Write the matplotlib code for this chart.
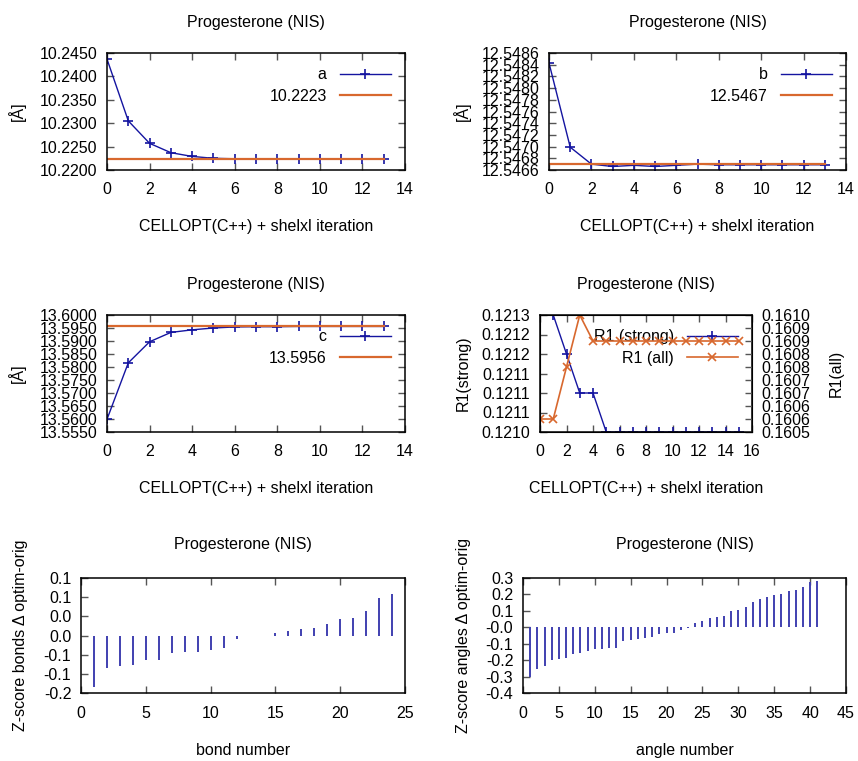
import numpy as np
import matplotlib
matplotlib.use("Agg")
import matplotlib.pyplot as plt
from matplotlib.ticker import FormatStrFormatter, MultipleLocator

plt.rcParams['font.family'] = ['Liberation Sans', 'DejaVu Sans']
plt.rcParams['font.size'] = 11.5
plt.rcParams['axes.titlesize'] = 11.5

# ---- data ----
iters = list(range(14))
a_vals = [10.2437, 10.2305, 10.2257, 10.2237, 10.2229, 10.2225, 10.2224,
          10.2224, 10.2223, 10.2223, 10.2223, 10.2223, 10.2223, 10.2223]
a_ref = 10.2223
b_vals = [12.54843, 12.54699, 12.54670, 12.54666, 12.54668, 12.54666, 12.54668,
          12.54670, 12.54669, 12.54669, 12.54669, 12.54669, 12.54669, 12.54669]
b_ref = 12.5467
c_vals = [13.5599, 13.5816, 13.5897, 13.5933, 13.5943, 13.5950, 13.5954,
          13.5955, 13.5955, 13.5956, 13.5956, 13.5956, 13.5956, 13.5956]
c_ref = 13.5956

r1_iters = list(range(16))
r1_strong = [0.1213, 0.1213, 0.1212, 0.1211, 0.1211, 0.1210, 0.1210, 0.1210,
             0.1210, 0.1210, 0.1210, 0.1210, 0.1210, 0.1210, 0.1210, 0.1210]
r1_all = [0.1606, 0.1606, 0.1608, 0.1610, 0.1609, 0.1609, 0.1609, 0.1609,
          0.1609, 0.1609, 0.1609, 0.1609, 0.1609, 0.1609, 0.1609, 0.1609]
r1s_ticks = [0.12100, 0.12105, 0.12110, 0.12115, 0.12120, 0.12125, 0.12130]
r1s_ticklabels = ['0.1210', '0.1211', '0.1211', '0.1211', '0.1212', '0.1212', '0.1213']
r1a_ticks = [0.16055, 0.16060, 0.16065, 0.16070, 0.16075, 0.16080, 0.16085,
             0.16090, 0.16095, 0.16100]
r1a_ticklabels = ['0.1605', '0.1606', '0.1606', '0.1607', '0.1607', '0.1608',
                  '0.1608', '0.1609', '0.1609', '0.1610']

bond_z = [-0.1355, -0.0858, -0.0798, -0.0772, -0.0643, -0.0643, -0.0463, -0.0429,
          -0.0429, -0.0377, -0.0317, -0.0090, -0.0015, -0.0015, 0.0077, 0.0120,
          0.0170, 0.0206, 0.0300, 0.0430, 0.0455, 0.0635, 0.0978, 0.1080]
bond_ticks = [-0.15, -0.10, -0.05, 0.0, 0.05, 0.10, 0.15]
bond_ticklabels = ['-0.2', '-0.1', '-0.1', '0.0', '0.0', '0.1', '0.1']

angle_z = [-0.300, -0.252, -0.236, -0.202, -0.192, -0.188, -0.162, -0.156, -0.146,
           -0.134, -0.130, -0.128, -0.124, -0.084, -0.076, -0.070, -0.064, -0.058,
           -0.038, -0.034, -0.032, -0.016, -0.004, 0.028, 0.040, 0.056, 0.064,
           0.068, 0.100, 0.104, 0.122, 0.154, 0.174, 0.182, 0.196, 0.204, 0.220,
           0.228, 0.244, 0.278, 0.284]

title = "Progesterone (NIS)"
xlab = "CELLOPT(C++) + shelxl iteration"
blue = '#1414a0'
orange = '#d8682e'
imp_blue = '#4040b0'

W, H = 858, 761
fig = plt.figure(figsize=(W / 100, H / 100), dpi=100)


def box(x0, y0, x1, y1):
    return [x0 / W, 1 - y1 / H, (x1 - x0) / W, (y1 - y0) / H]


def style(ax, right=True):
    ax.tick_params(direction='in', length=5, width=1, top=True, right=right,
                   color='#555555')
    ax.tick_params(axis='x', pad=9)
    ax.tick_params(axis='y', pad=7)
    for s in ax.spines.values():
        s.set_linewidth(1.1)
    ax.set_title(title, pad=19)


def cell_panel(pos, vals, ref, label, ymin, ymax, step):
    ax = fig.add_axes(box(*pos))
    ax.plot(iters, vals, color=blue, lw=1, marker='+', ms=7, mew=1.2, label=label)
    ax.plot(iters, [ref] * len(iters), color=orange, lw=1.6, label=f"{ref:.4f}")
    ax.set_xlim(0, 14)
    ax.xaxis.set_major_locator(MultipleLocator(2))
    ax.set_ylim(ymin, ymax)
    ax.set_yticks(np.arange(ymin, ymax + step / 2, step))
    ax.yaxis.set_major_formatter(FormatStrFormatter('%.4f'))
    style(ax)
    ax.set_xlabel(xlab)
    ax.xaxis.set_label_coords(0.5, -0.42)
    ax.legend(loc='upper right', frameon=False, markerfirst=False,
              handlelength=3.2, labelspacing=0.4, borderaxespad=0.5)
    return ax


ax1 = cell_panel((107, 53, 405, 170), a_vals, a_ref, 'a', 10.22, 10.245, 0.005)
ax1.set_ylabel('[Å]')
ax1.yaxis.set_label_coords(-0.272, 0.5)

ax2 = cell_panel((549, 53, 846, 170), b_vals, b_ref, 'b', 12.5466, 12.5486, 0.0002)
ax2.set_ylabel('[Å]')
ax2.yaxis.set_label_coords(-0.263, 0.5)

ax3 = cell_panel((107, 315, 405, 432), c_vals, c_ref, 'c', 13.555, 13.600, 0.005)
ax3.set_ylabel('[Å]')
ax3.yaxis.set_label_coords(-0.272, 0.5)

# R1 panel with two y axes
ax4 = fig.add_axes(box(540, 315, 752, 432))
l1, = ax4.plot(r1_iters, r1_strong, color=blue, lw=1, marker='+', ms=7, mew=1.2,
               label='R1 (strong)')
ax4.set_xlim(0, 16)
ax4.xaxis.set_major_locator(MultipleLocator(2))
ax4.set_ylim(r1s_ticks[0], r1s_ticks[-1])
ax4.set_yticks(r1s_ticks)
ax4.set_yticklabels(r1s_ticklabels)
style(ax4, right=False)
ax4.set_ylabel('R1(strong)')
ax4.yaxis.set_label_coords(-0.325, 0.5)
ax4.set_xlabel(xlab)
ax4.xaxis.set_label_coords(0.5, -0.42)
ax4b = ax4.twinx()
l2, = ax4b.plot(r1_iters, r1_all, color=orange, lw=1.2, marker='x', ms=6, mew=1.2,
                label='R1 (all)')
ax4b.set_ylim(r1a_ticks[0], r1a_ticks[-1])
ax4b.set_yticks(r1a_ticks)
ax4b.set_yticklabels(r1a_ticklabels)
ax4b.tick_params(direction='in', length=5, width=1, pad=7, color='#555555')
ax4b.set_ylabel('R1(all)')
ax4b.yaxis.set_label_coords(1.363, 0.5)
ax4.legend(handles=[l1, l2], loc='upper right', frameon=False, markerfirst=False,
           handlelength=3.2, labelspacing=0.4, borderaxespad=0.5)

# Z-score panels (impulses)
ax5 = fig.add_axes(box(81, 578, 405, 693))
bond_x = np.arange(1, len(bond_z) + 1)
ax5.vlines(bond_x, 0, bond_z, color=imp_blue, lw=1.4)
ax5.set_xlim(0, 25)
ax5.xaxis.set_major_locator(MultipleLocator(5))
ax5.set_ylim(-0.15, 0.15)
ax5.set_yticks(bond_ticks)
ax5.set_yticklabels(bond_ticklabels)
style(ax5, right=False)
ax5.set_title(title, pad=21)
ax5.set_xlabel('bond number')
ax5.xaxis.set_label_coords(0.5, -0.435)
ax5.set_ylabel('Z-score bonds Δ optim-orig')
ax5.yaxis.set_label_coords(-0.164, 0.5)

ax6 = fig.add_axes(box(523, 578, 846, 693))
angle_x = np.arange(1, len(angle_z) + 1)
ax6.vlines(angle_x, 0, angle_z, color=imp_blue, lw=1.4)
ax6.set_xlim(0, 45)
ax6.xaxis.set_major_locator(MultipleLocator(5))
ax6.set_ylim(-0.4, 0.3)
ax6.set_yticks(np.arange(-0.4, 0.31, 0.1))
ax6.yaxis.set_major_formatter(FormatStrFormatter('%.1f'))
style(ax6, right=False)
ax6.set_title(title, pad=21)
ax6.set_xlabel('angle number')
ax6.xaxis.set_label_coords(0.5, -0.435)
ax6.set_ylabel('Z-score angles Δ optim-orig')
ax6.yaxis.set_label_coords(-0.161, 0.5)

fig.savefig('out.png', dpi=100)
